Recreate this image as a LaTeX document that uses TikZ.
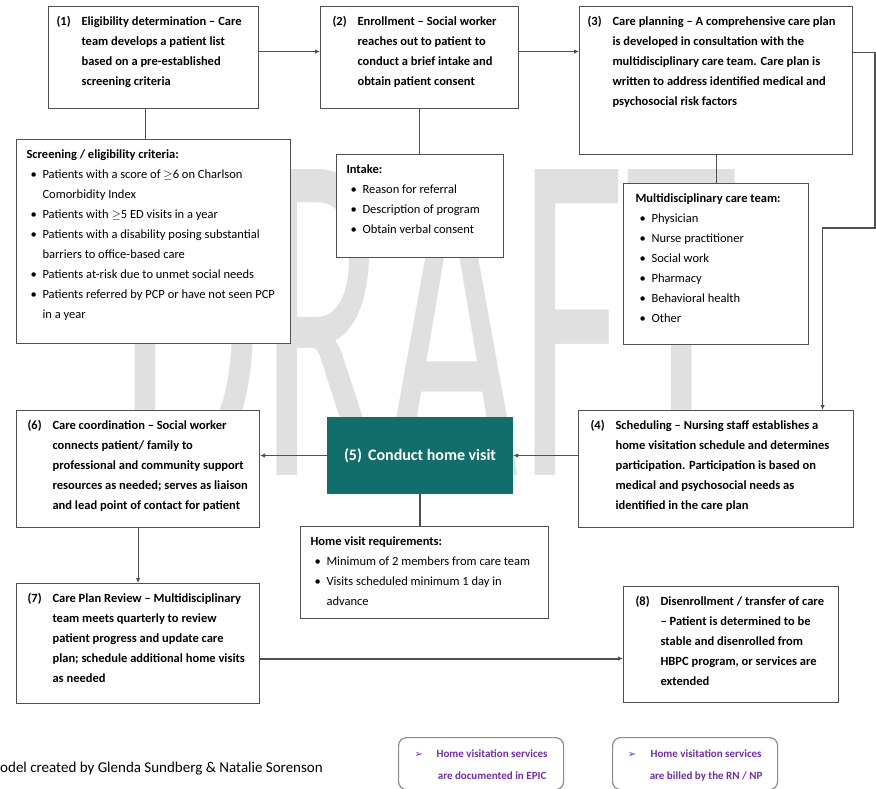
\documentclass[tikz,border=0pt]{standalone}
\usepackage{fontspec}
\setmainfont{Carlito}
\newfontfamily\simbolos{DejaVu Sans}
\usetikzlibrary{positioning}
\usetikzlibrary{arrows.meta}
\usetikzlibrary{calc}
\definecolor{figLinea}{RGB}{80,80,80}
\definecolor{figVisita}{RGB}{18,110,106}
\definecolor{figMorado}{RGB}{112,48,160}
\definecolor{figMarca}{RGB}{224,224,224}
\definecolor{figNotaBorde}{RGB}{140,140,140}
% caja de texto: ancho, alto, margen, contenido
\newcommand{\caja}[4]{\parbox[c][#2pt][t]{#1pt}{\vspace*{5pt}\hspace*{#3pt}#4}}
\newcommand{\pasonum}[1]{\makebox[25pt][l]{#1}}
\newcommand{\lineas}[1]{\begin{tabular}[t]{@{}l@{}}#1\end{tabular}}
\newcommand{\vineta}{\hspace*{4pt}\textbullet}
\tikzset{
  paso/.style={
    rectangle, draw=figLinea, line width=1.1pt, fill=white,
    inner sep=0pt, anchor=north west,
    font=\fontsize{12.5}{20}\selectfont\bfseries
  },
  lista/.style={
    rectangle, draw=figLinea, line width=1.1pt, fill=white,
    inner sep=0pt, anchor=north west,
    font=\fontsize{12.5}{20}\selectfont
  },
  visita/.style={
    rectangle, draw=figVisita, fill=figVisita, line width=1pt,
    inner sep=0pt, anchor=north west, minimum width=185pt, minimum height=76pt,
    text=white, font=\fontsize{16}{19}\selectfont\bfseries
  },
  nota/.style={
    rectangle, rounded corners=8pt, draw=figNotaBorde, line width=1.2pt, fill=white,
    inner sep=0pt, anchor=north west, minimum width=165pt, minimum height=52pt,
    text=figMorado, font=\fontsize{11}{22}\selectfont\bfseries
  },
  flecha/.style={-{Latex[length=5pt,width=4.5pt]}, line width=1.1pt, draw=figLinea},
  enlace/.style={line width=1.1pt, draw=figLinea}
}

\begin{document}
\begin{tikzpicture}[x=1pt, y=-1pt]
  \useasboundingbox (0,0) rectangle (876,788);
  \clip (0,0) rectangle (876,788);
  % marca de agua
  \node[anchor=base west, inner sep=0pt, text=figMarca] (marca) at (119,475)
    {\scalebox{0.483}[1]{\fontsize{477}{477}\selectfont DRAFT}};

  % fila superior
  \node[paso] (elig) at (48,6) {\caja{210}{102}{8}{\pasonum{(1)}\lineas{Eligibility determination -- Care\\team develops a patient list\\based on a pre-established\\screening criteria}}};
  \node[paso] (inscr) at (320,6) {\caja{198}{102}{12}{\pasonum{(2)}\lineas{Enrollment -- Social worker\\reaches out to patient to\\conduct a brief intake and\\obtain patient consent}}};
  \node[paso] (plan) at (579,6) {\caja{273}{148}{8}{\pasonum{(3)}\lineas{Care planning -- A comprehensive care plan\\is developed in consultation with the\\multidisciplinary care team. Care plan is\\written to address identified medical and\\psychosocial risk factors}}};

  % listas
  \node[lista] (criterios) at (16,139) {\caja{274}{204}{10}{\begin{tabular}[t]{@{}p{16pt}@{}l@{}}
    \multicolumn{2}{@{}l@{}}{\bfseries Screening / eligibility criteria:}\\
    \vineta & Patients with a score of $\geq$6 on Charlson\\
            & Comorbidity Index\\
    \vineta & Patients with $\geq$5 ED visits in a year\\
    \vineta & Patients with a disability posing substantial\\
            & barriers to office-based care\\
    \vineta & Patients at-risk due to unmet social needs\\
    \vineta & Patients referred by PCP or have not seen PCP\\
            & in a year
  \end{tabular}}};
  \node[lista] (ingreso) at (336,154) {\caja{167}{103}{10}{\begin{tabular}[t]{@{}p{16pt}@{}l@{}}
    \multicolumn{2}{@{}l@{}}{\bfseries Intake:}\\
    \vineta & Reason for referral\\
    \vineta & Description of program\\
    \vineta & Obtain verbal consent
  \end{tabular}}};
  \node[lista] (equipo) at (623,183) {\caja{185}{161}{12}{\begin{tabular}[t]{@{}p{16pt}@{}l@{}}
    \multicolumn{2}{@{}l@{}}{\bfseries Multidisciplinary care team:}\\
    \vineta & Physician\\
    \vineta & Nurse practitioner\\
    \vineta & Social work\\
    \vineta & Pharmacy\\
    \vineta & Behavioral health\\
    \vineta & Other
  \end{tabular}}};

  % fila central
  \node[paso] (agenda) at (578,410) {\caja{275}{117}{12}{\pasonum{(4)}\lineas{Scheduling -- Nursing staff establishes a\\home visitation schedule and determines\\participation. Participation is based on\\medical and psychosocial needs as\\identified in the care plan}}};
  \node[visita] (visita) at (327,417) {(5)\hspace{6pt}Conduct home visit};
  \node[paso] (coord) at (16,410) {\caja{243}{117}{11}{\pasonum{(6)}\lineas{Care coordination -- Social worker\\connects patient/ family to\\professional and community support\\resources as needed; serves as liaison\\and lead point of contact for patient}}};
  \node[lista] (requisitos) at (300,526) {\caja{248}{92}{10}{\begin{tabular}[t]{@{}p{16pt}@{}l@{}}
    \multicolumn{2}{@{}l@{}}{\bfseries Home visit requirements:}\\
    \vineta & Minimum of 2 members from care team\\
    \vineta & Visits scheduled minimum 1 day in\\
            & advance
  \end{tabular}}};

  % fila inferior
  \node[paso] (revision) at (16,583) {\caja{243}{120}{11}{\pasonum{(7)}\lineas{Care Plan Review -- Multidisciplinary\\team meets quarterly to review\\patient progress and update care\\plan; schedule additional home visits\\as needed}}};
  \node[paso] (baja) at (623,586) {\caja{215}{116}{12}{\pasonum{(8)}\lineas{Disenrollment / transfer of care\\-- Patient is determined to be\\stable and disenrolled from\\HBPC program, or services are\\extended}}};

  % pie
  \node[anchor=base west, inner sep=0pt, font=\fontsize{15}{17}\selectfont] (autoria) at (-12.8,772)
    {Model created by Glenda Sundberg \& Natalie Sorenson};
  \node[nota] (notaEpic) at (398,737) {\makebox[22pt][l]{\simbolos\fontsize{10}{10}\selectfont ➢}\begin{tabular}[t]{@{}c@{}}Home visitation services\\are documented in EPIC\end{tabular}};
  \node[nota] (notaCobro) at (612,737) {\makebox[22pt][l]{\simbolos\fontsize{10}{10}\selectfont ➢}\begin{tabular}[t]{@{}c@{}}Home visitation services\\are billed by the RN / NP\end{tabular}};

  % conexiones
  \coordinate (codo) at (875,228);
  \draw[flecha] ([yshift=6pt]elig.east) -- ([yshift=6pt]elig.east -| inscr.west);
  \draw[flecha] ([yshift=6pt]inscr.east) -- ([yshift=6pt]inscr.east -| plan.west);
  \draw[flecha] ([yshift=28pt]plan.east) -| (codo) -| ([xshift=106.5pt]agenda.north);
  \draw[flecha] (agenda.west |- visita.east) -- (visita.east);
  \draw[flecha] (visita.west) -- (visita.west -| coord.east);
  \draw[flecha] (coord.south) -- (revision.north);
  \draw[flecha, line width=2pt] ([yshift=-15pt]revision.east) -- ([yshift=-15pt]revision.east -| baja.west);
  \draw[enlace] ([xshift=-8pt]elig.south) -- ([xshift=-8pt]elig.south |- criterios.north);
  \draw[enlace] (inscr.south) -- (inscr.south |- ingreso.north);
  \draw[enlace] (plan.south) -- (plan.south |- equipo.north);
  \draw[enlace] (visita.south) -- (visita.south |- requisitos.north);
\end{tikzpicture}
\end{document}
